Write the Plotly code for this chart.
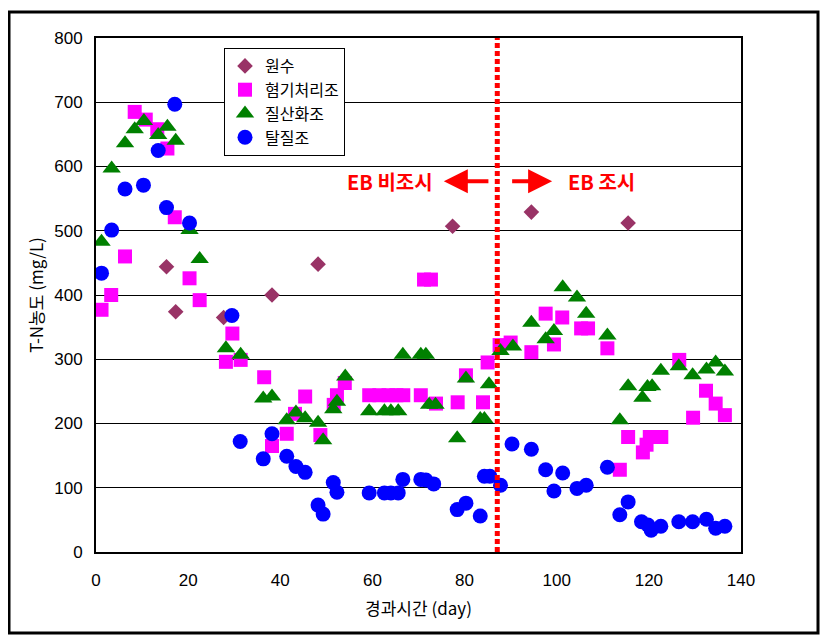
import plotly.graph_objects as go

# ---------------- data ----------------
raw_x = [15.3, 17.3, 27.7, 38.2, 48.2, 77.4, 94.5, 115.5]
raw_y = [444, 374, 365, 400, 448, 507, 529, 512]

ana_x = [1.2, 3.3, 6.3, 8.4, 10.8, 13.3, 15.5, 17.1, 20.3, 22.5,
         28.2, 29.6, 31.4, 36.5, 38.2, 41.4, 43.2, 45.4, 48.7, 51.6,
         52.3, 54.0, 59.3, 61.5, 63.5, 65.2, 66.7, 70.5, 71.2, 72.7,
         73.8, 78.5, 80.3, 84.0, 85.0, 87.6, 90.0, 94.5, 97.6, 99.4,
         101.2, 105.3, 106.8, 111.0, 113.7, 115.5, 118.7, 119.5, 120.2, 122.7,
         126.6, 129.6, 132.4, 134.5, 136.5]
ana_y = [377, 400, 460, 685, 673, 658, 628, 521, 426, 392,
         296, 340, 299, 272, 165, 184, 215, 242, 182, 229,
         244, 263, 244, 244, 244, 244, 244, 244, 424, 424,
         231, 233, 275, 233, 295, 322, 326, 311, 371, 323,
         365, 348, 348, 317, 128, 179, 155, 167, 179, 179,
         299, 209, 251, 231, 213]

nit_x = [1.2, 3.4, 6.3, 8.4, 10.4, 13.5, 15.5, 17.3, 20.3, 22.5,
         28.2, 31.4, 36.3, 38.2, 41.4, 43.4, 45.4, 48.2, 49.3, 51.5,
         52.3, 54.1, 59.3, 62.6, 64.0, 65.6, 66.6, 70.5, 71.6, 72.3,
         73.7, 78.4, 80.3, 83.4, 84.3, 85.3, 87.8, 90.5, 94.5, 97.6,
         99.4, 101.3, 104.4, 106.4, 111.0, 113.7, 115.5, 118.6, 119.7, 120.7,
         122.6, 126.5, 129.5, 132.5, 134.5, 136.5]
nit_y = [483, 597, 636, 658, 671, 649, 662, 640, 501, 456,
         317, 307, 239, 242, 205, 217, 208, 201, 174, 222,
         234, 273, 219, 219, 219, 219, 307, 307, 307, 229,
         229, 177, 270, 207, 207, 261, 313, 320, 357, 331,
         344, 412, 396, 371, 337, 205, 258, 240, 257, 258,
         282, 289, 275, 284, 295, 281]

den_x = [1.2, 3.4, 6.3, 10.3, 13.5, 15.3, 17.1, 20.3, 29.5, 31.3,
         36.3, 38.2, 41.4, 43.4, 45.4, 48.2, 49.3, 51.5, 52.3, 59.3,
         62.6, 64.0, 65.6, 66.6, 70.5, 71.6, 73.3, 78.4, 80.3, 83.4,
         84.3, 85.5, 87.8, 90.3, 94.5, 97.6, 99.4, 101.3, 104.4, 106.4,
         111.0, 113.7, 115.5, 118.4, 119.8, 120.5, 122.6, 126.5, 129.5, 132.5,
         134.5, 136.5]
den_y = [434, 501, 565, 571, 625, 536, 697, 512, 368, 172,
         145, 184, 149, 133, 124, 73, 59, 108, 93, 92,
         92, 92, 92, 113, 113, 112, 106, 66, 76, 56,
         118, 118, 104, 168, 160, 128, 95, 123, 99, 104,
         132, 58, 78, 47, 42, 34, 40, 47, 47, 51,
         37, 40]

series_names = ["원수", "혐기처리조", "질산화조", "탈질조"]
x_ticks = [0, 20, 40, 60, 80, 100, 120, 140]
y_ticks = [0, 100, 200, 300, 400, 500, 600, 700, 800]
eb_day = 87.1

KFONT = "Noto Sans CJK KR, Noto Sans, sans-serif"
NFONT = "Liberation Sans, Arial, sans-serif"

# plot area in figure pixels (page has an 8px body margin)
PL, PR, PT, PB = 88, 733, 30, 544
PW, PH = PR - PL, PB - PT

fig = go.Figure()
fig.add_trace(go.Scatter(x=raw_x, y=raw_y, mode="markers", name=series_names[0],
                         marker=dict(symbol="diamond", size=12, color="#993366")))
fig.add_trace(go.Scatter(x=ana_x, y=ana_y, mode="markers", name=series_names[1],
                         marker=dict(symbol="square", size=14, color="#FF00FF")))
fig.add_trace(go.Scatter(x=nit_x, y=nit_y, mode="markers", name=series_names[2],
                         marker=dict(symbol="triangle-up", size=16, color="#008000")))
fig.add_trace(go.Scatter(x=den_x, y=den_y, mode="markers", name=series_names[3],
                         marker=dict(symbol="circle", size=15, color="#0000FF")))

# EB dotted line
fig.add_shape(type="line", xref="x", yref="paper", x0=eb_day, x1=eb_day, y0=0, y1=1,
              line=dict(color="#FF0000", width=5, dash="5px,3px"), layer="above")

# outer frame
fig.add_shape(type="rect", xref="paper", yref="paper",
              x0=(1 - PL) / PW, x1=(810 - PL) / PW,
              y0=(PB - 625) / PH, y1=(PB - 4) / PH,
              line=dict(color="black", width=3), layer="above")

# EB annotations
fig.add_annotation(x=63.8, y=577, text="<b>EB 비조시</b>", showarrow=False,
                   font=dict(family=KFONT, size=20, color="#FF0000"))
fig.add_annotation(x=75.5, y=577, ax=85.5, ay=577, axref="x", ayref="y",
                   text="", showarrow=True, arrowhead=2, arrowsize=1.2,
                   arrowwidth=4, arrowcolor="#FF0000")
fig.add_annotation(x=99.0, y=577, ax=90.0, ay=577, axref="x", ayref="y",
                   text="", showarrow=True, arrowhead=2, arrowsize=1.2,
                   arrowwidth=4, arrowcolor="#FF0000")
fig.add_annotation(x=109.8, y=577, text="<b>EB 조시</b>", showarrow=False,
                   font=dict(family=KFONT, size=20, color="#FF0000"))

fig.update_layout(
    width=821, height=632,
    margin=dict(l=PL, r=821 - PR, t=PT, b=632 - PB),
    paper_bgcolor="white", plot_bgcolor="white",
    showlegend=True,
    legend=dict(x=(216 - PL) / PW, y=(PB - 40) / PH, xanchor="left", yanchor="top",
                bgcolor="white", bordercolor="black", borderwidth=1,
                font=dict(family=KFONT, size=16, color="black"),
                itemwidth=30, tracegroupgap=0),
    xaxis=dict(range=[0, 140], tickvals=x_ticks, showgrid=False, zeroline=False,
               showline=True, linecolor="black", linewidth=2, mirror=True,
               ticks="", ticklabelstandoff=12,
               tickfont=dict(family=NFONT, size=17, color="black"),
               title=dict(text="경과시간 (day)", standoff=14,
                          font=dict(family=KFONT, size=17, color="black"))),
    yaxis=dict(range=[0, 800], tickvals=y_ticks, showgrid=True, gridcolor="black",
               gridwidth=1, zeroline=False,
               showline=True, linecolor="black", linewidth=2, mirror=True,
               ticks="", ticklabelstandoff=8,
               tickfont=dict(family=NFONT, size=17, color="black"),
               title=dict(text="T-N농도 (mg/L)", standoff=6,
                          font=dict(family=KFONT, size=17, color="black"))),
)

fig.write_html("out.html")
